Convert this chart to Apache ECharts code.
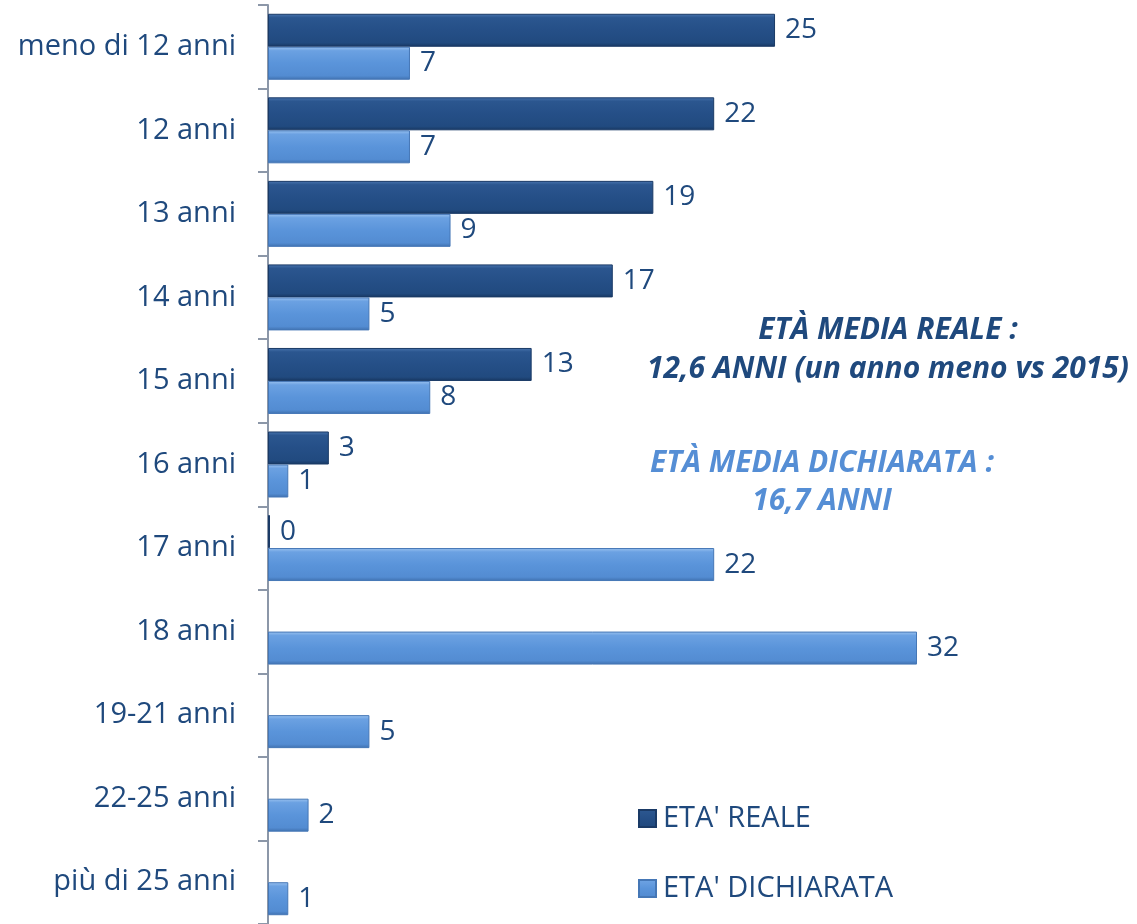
<!DOCTYPE html>
<html>
<head>
<meta charset="utf-8">
<script src="https://cdn.jsdelivr.net/npm/echarts@6/dist/echarts.min.js"></script>
<style>
  html, body { margin: 0; padding: 0; background: #ffffff; }
  #chart { width: 1137px; height: 924px; }
</style>
</head>
<body>
<div id="chart"></div>
<script>
// Fasce d'età (dall'alto verso il basso)
const categories = [
  'meno di 12 anni', '12 anni', '13 anni', '14 anni', '15 anni', '16 anni',
  '17 anni', '18 anni', '19-21 anni', '22-25 anni', 'più di 25 anni'
];
// Età reale (%), nessun valore oltre i 17 anni
const etaReale = [25, 22, 19, 17, 13, 3, 0, null, null, null, null];
// Età dichiarata (%)
const etaDichiarata = [7, 7, 9, 5, 8, 1, 22, 32, 5, 2, 1];

const seriesNames = ["ETA' REALE", "ETA' DICHIARATA"];
const noteReale = ['ETÀ MEDIA REALE :', '12,6 ANNI (un anno meno vs 2015)'];
const noteDichiarata = ['ETÀ MEDIA DICHIARATA :', '16,7 ANNI'];

const FONT = '"Open Sans", Lato, sans-serif';
const TEXT_DARK = '#1F497D';
const TEXT_LIGHT = '#558ED5';

function grad(stops) {
  return new echarts.graphic.LinearGradient(0, 0, 0, 1,
    stops.map(([offset, color]) => ({ offset, color })));
}

const darkFill = grad([[0, '#4A76B0'], [0.12, '#2B568F'], [0.5, '#254F87'], [0.88, '#214A7F'], [1, '#173761']]);
const lightFill = grad([[0, '#9CC3F0'], [0.12, '#6BA1E2'], [0.5, '#5A94DA'], [0.88, '#538CD2'], [1, '#3F70AE']]);

const chart = echarts.init(document.getElementById('chart'), null, { renderer: 'canvas' });

const valueLabel = {
  show: true,
  position: 'right',
  distance: 10,
  color: TEXT_DARK,
  fontFamily: FONT,
  fontSize: 28
};

// Note di testo sul lato destro, una riga per elemento
function noteLines(lines, cx, yCenters, color) {
  return lines.map((t, i) => ({
    type: 'text',
    style: {
      x: cx, y: yCenters[i], text: t, align: 'center', verticalAlign: 'middle',
      fill: color, font: 'italic bold 30px "Open Sans", sans-serif'
    }
  }));
}

chart.setOption({
  backgroundColor: '#ffffff',
  animation: false,
  grid: { left: 268, top: 5, width: 649, height: 924, containLabel: false },
  xAxis: {
    type: 'value', min: 0, max: 32, show: false
  },
  yAxis: {
    type: 'category',
    data: categories,
    inverse: true,
    boundaryGap: true,
    axisLine: { show: true, lineStyle: { color: '#8C97A8', width: 2 } },
    axisTick: { show: true, length: 10, lineStyle: { color: '#8C97A8', width: 2 } },
    axisLabel: {
      margin: 32, color: TEXT_DARK, fontFamily: FONT, fontSize: 29
    },
    splitLine: { show: false }
  },
  legend: {
    orient: 'vertical',
    left: 633,
    top: 799,
    itemWidth: 17,
    itemHeight: 17,
    itemGap: 41,
    icon: 'rect',
    selectedMode: false,
    textStyle: { color: TEXT_DARK, fontFamily: FONT, fontSize: 29, padding: [0, 0, 0, 2] },
    data: seriesNames
  },
  series: [
    {
      name: seriesNames[0],
      type: 'bar',
      data: etaReale,
      barGap: '0%',
      barCategoryGap: '21%',
      barMinHeight: 2,
      itemStyle: { color: darkFill, borderColor: '#1A3A66', borderWidth: 1 },
      label: valueLabel
    },
    {
      name: seriesNames[1],
      type: 'bar',
      data: etaDichiarata,
      barGap: '0%',
      barCategoryGap: '21%',
      itemStyle: { color: lightFill, borderColor: '#4577B6', borderWidth: 1 },
      label: valueLabel
    }
  ],
  graphic: [
    ...noteLines(noteReale, 888, [330, 369], TEXT_DARK),
    ...noteLines(noteDichiarata, 822, [463, 501], TEXT_LIGHT)
  ]
});
</script>
</body>
</html>
